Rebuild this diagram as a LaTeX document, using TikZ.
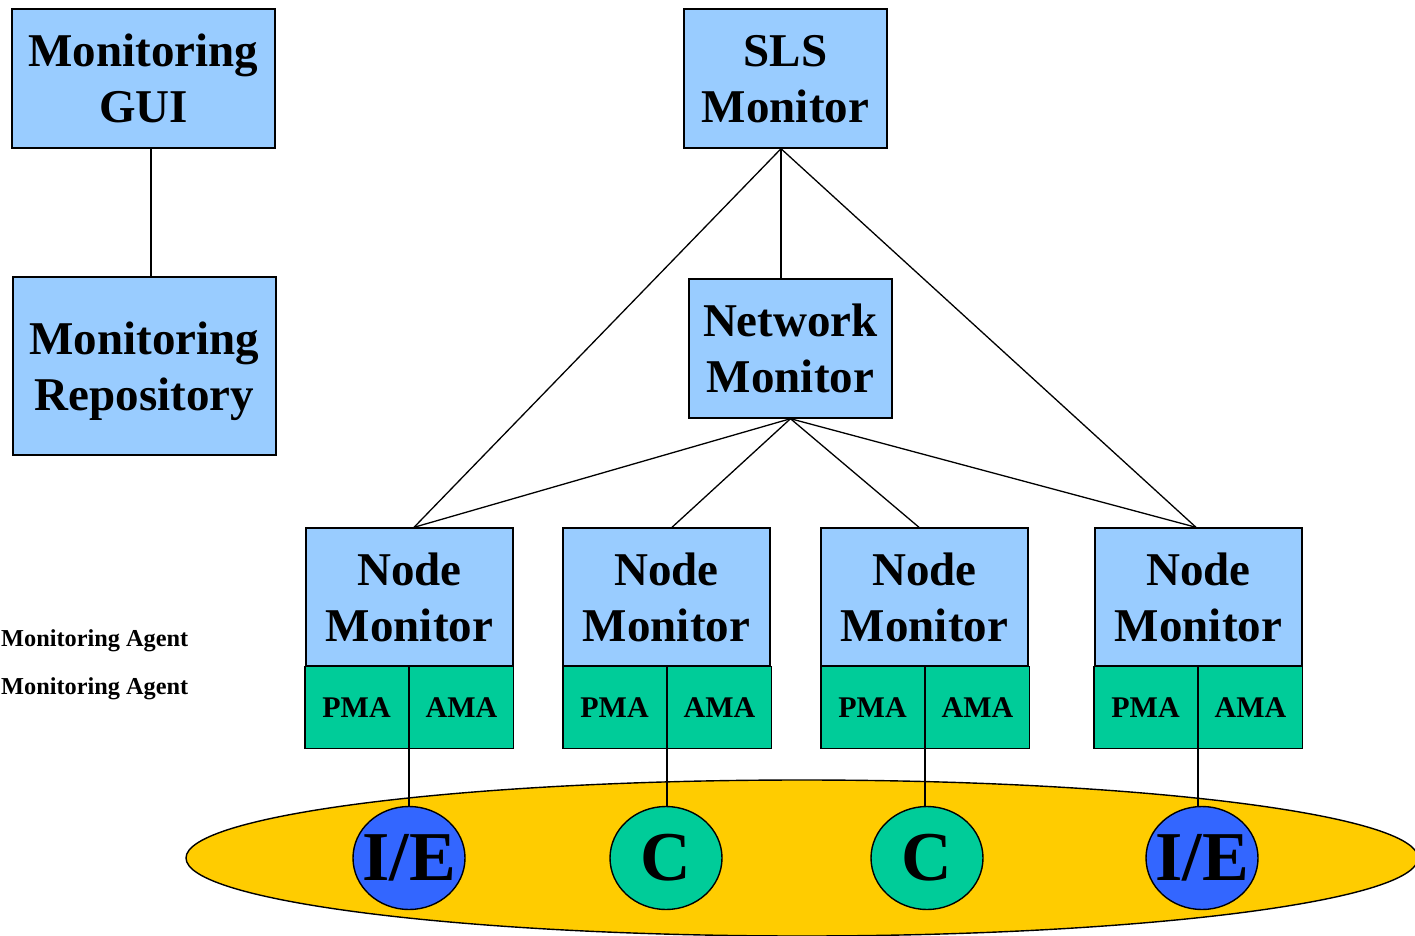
\documentclass[tikz,border=0pt]{standalone}
\usepackage{fontspec}
\setmainfont{Liberation Serif}
\usetikzlibrary{shapes.geometric,calc}
\definecolor{boxblue}{HTML}{99CCFF}
\definecolor{agentgreen}{HTML}{00CC99}
\definecolor{ringyellow}{HTML}{FFCC00}
\definecolor{hostblue}{HTML}{3366FF}
\begin{document}
\begin{tikzpicture}[x=1pt,y=-1pt,
  bigbox/.style={draw=black, line width=1.4pt, fill=boxblue, align=center, inner sep=0pt,
    text depth=0pt, font=\fontsize{47}{56}\selectfont\bfseries},
  agentbox/.style={draw=black, line width=1.4pt, fill=agentgreen, inner sep=0pt,
    minimum width=103.5pt, minimum height=82pt, font=\fontsize{30}{36}\selectfont\bfseries},
  host/.style={ellipse, draw=black, line width=1.4pt, inner sep=0pt,
    minimum width=112pt, minimum height=103pt},
  hostlabel/.style={font=\fontsize{70}{74}\selectfont\bfseries, inner sep=0pt},
  link/.style={draw=black, line width=1.3pt},
  sidetext/.style={anchor=base west, inner sep=0pt, font=\fontsize{24.3}{30}\selectfont\bfseries}
]
\useasboundingbox (0,0) rectangle (1415,936);

% ring
\node[ellipse, draw=black, line width=1.4pt, fill=ringyellow, minimum width=1232pt, minimum height=156pt, inner sep=0pt] (ring) at (802,858) {};

% top-level boxes
\node[bigbox, minimum width=263pt, minimum height=139pt] (gui) at (143.5,78.5) {Monitoring\\GUI};
\node[bigbox, minimum width=263pt, minimum height=178pt] (repo) at (144.5,366) {Monitoring\\Repository};
\node[bigbox, minimum width=203pt, minimum height=139pt] (sls) at (785.5,78.5) {SLS\\Monitor};
\node[bigbox, minimum width=203pt, minimum height=139pt] (net) at (790.5,348.5) {Network\\Monitor};

% node monitors
\foreach \i/\cx/\sx in {1/409.5/409, 2/666.5/667, 3/924.5/925, 4/1198.5/1198}{
  \node[bigbox, minimum width=207pt, minimum height=138pt] (nm\i) at (\cx,597) {Node\\Monitor};
  \node[agentbox, anchor=north east] (pma\i) at (\sx,666) {PMA};
  \node[agentbox, anchor=north west] (ama\i) at (\sx,666) {AMA};
}

% hosts
\node[host, fill=hostblue, label={[hostlabel]center:I/E}] (h1) at (409,858) {};
\node[host, fill=agentgreen, label={[hostlabel]center:C}] (h2) at (666,858) {};
\node[host, fill=agentgreen, label={[hostlabel]center:C}] (h3) at (927,858) {};
\node[host, fill=hostblue, label={[hostlabel]center:I/E}] (h4) at (1202,858) {};

% side text
\node[sidetext] (pmatext) at (1,646) {Monitoring Agent};
\node[sidetext] (amatext) at (1,694) {Monitoring Agent};

% connectors
\draw[link] (gui.south -| 151,0) -- (repo.north -| 151,0);
\draw[link] ($(sls.south)+(-4.5,0)$) -- ($(nm1.north)+(4.5,0)$);
\draw[link] ($(sls.south)+(-4.5,0)$) -- ($(sls.south |- net.north)+(-4.5,0)$);
\draw[link] ($(sls.south)+(-4.5,0)$) -- ($(nm4.north)+(-2.5,0)$);
\draw[link] (net.south) -- ($(nm1.north)+(4.5,0)$);
\draw[link] (net.south) -- ($(nm2.north)+(5.5,0)$);
\draw[link] (net.south) -- ($(nm3.north)+(-5.5,0)$);
\draw[link] (net.south) -- ($(nm4.north)+(-2.5,0)$);
\foreach \i in {1,2,3,4}{
  \draw[link] (pma\i.south east) -- (pma\i.south east |- h\i.north);
}
\end{tikzpicture}
\end{document}
